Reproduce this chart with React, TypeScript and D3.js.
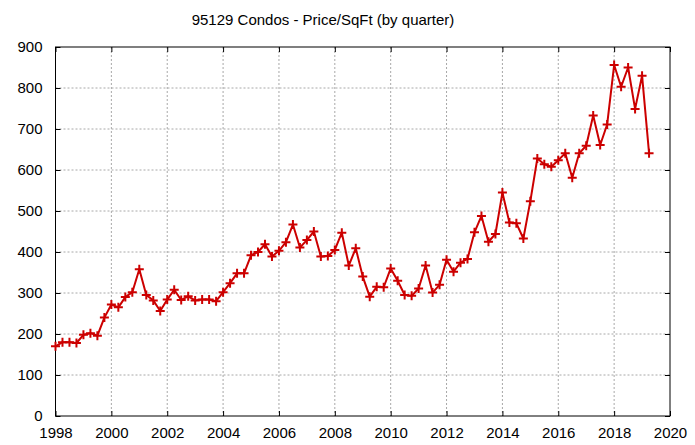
import React, { useEffect, useRef } from 'react';
import * as d3 from 'd3';

const svgWidth = 695;
const svgHeight = 445;

const title = '95129 Condos - Price/SqFt (by quarter)';
const startYear = 1998;
// quarterly price per sq ft, 1998 Q1 .. 2019 Q2
const prices = [
  170, 180, 180, 178,
  198, 202, 196, 240,
  272, 265, 290, 302,
  358, 295, 282, 256,
  284, 308, 283, 292,
  282, 284, 284, 280,
  302, 324, 348, 348,
  392, 400, 419, 389,
  403, 424, 467, 411,
  429, 450, 389, 390,
  405, 447, 367, 409,
  340, 291, 315, 314,
  360, 330, 295, 293,
  311, 367, 301, 320,
  381, 352, 374, 383,
  448, 488, 425, 444,
  545, 472, 470, 433,
  524, 628, 614, 608,
  624, 641, 581, 641,
  659, 733, 661, 711,
  856, 803, 850, 749,
  830, 641,
];
const xTicks = [1998, 2000, 2002, 2004, 2006, 2008, 2010, 2012, 2014, 2016, 2018, 2020];
const yTicks = [0, 100, 200, 300, 400, 500, 600, 700, 800, 900];

const App: React.FC = () => {
  const svgRef = useRef<SVGSVGElement | null>(null);

  useEffect(() => {
    const margin = { top: 47, right: 25, bottom: 29, left: 55.5 };
    const width = svgWidth - margin.left - margin.right;
    const height = svgHeight - margin.top - margin.bottom;

    const svg = d3.select(svgRef.current);
    svg.selectAll('*').remove();

    const data = prices.map((v, i) => ({ x: startYear + i / 4, y: v }));

    const xScale = d3.scaleLinear().domain([1998, 2020]).range([0, width]);
    const yScale = d3.scaleLinear().domain([0, 900]).range([height, 0]);

    const g = svg
      .append('g')
      .attr('transform', `translate(${margin.left},${margin.top})`);

    // grid
    g.append('g')
      .selectAll('line')
      .data(xTicks.slice(1, -1))
      .join('line')
      .attr('x1', (d) => xScale(d))
      .attr('x2', (d) => xScale(d))
      .attr('y1', 0)
      .attr('y2', height)
      .attr('stroke', '#a8a8a8')
      .attr('stroke-dasharray', '2,2');
    g.append('g')
      .selectAll('line')
      .data(yTicks.slice(1, -1))
      .join('line')
      .attr('x1', 0)
      .attr('x2', width)
      .attr('y1', (d) => yScale(d))
      .attr('y2', (d) => yScale(d))
      .attr('stroke', '#a8a8a8')
      .attr('stroke-dasharray', '2,2');

    // axes (ticks inward, mirrored)
    const axisStyle = (sel: any) => {
      sel.select('.domain').remove();
      sel.selectAll('line').attr('stroke', '#000');
      sel.selectAll('text').attr('font-family', "'Liberation Sans', Arial, sans-serif").attr('font-size', 15).attr('fill', '#000');
    };
    g.append('g')
      .attr('transform', `translate(0,${height})`)
      .call(d3.axisBottom(xScale).tickValues(xTicks).tickFormat(d3.format('d')).tickSizeInner(-5).tickPadding(11))
      .call(axisStyle);
    g.append('g')
      .call(d3.axisTop(xScale).tickValues(xTicks).tickFormat(() => '').tickSizeInner(-5))
      .call(axisStyle);
    g.append('g')
      .call(d3.axisLeft(yScale).tickValues(yTicks).tickSizeInner(-5).tickPadding(13))
      .call(axisStyle);
    g.append('g')
      .attr('transform', `translate(${width},0)`)
      .call(d3.axisRight(yScale).tickValues(yTicks).tickFormat(() => '').tickSizeInner(-5))
      .call(axisStyle);

    g.append('rect')
      .attr('width', width)
      .attr('height', height)
      .attr('fill', 'none')
      .attr('stroke', '#000');

    // line
    const line = d3
      .line<{ x: number; y: number }>()
      .x((d) => xScale(d.x))
      .y((d) => yScale(d.y));

    g.append('path')
      .datum(data)
      .attr('d', line)
      .attr('fill', 'none')
      .attr('stroke', '#cc0000')
      .attr('stroke-width', 2)
      .attr('stroke-linejoin', 'round');

    // + markers
    const s = 4.5;
    g.append('g')
      .selectAll('path')
      .data(data)
      .join('path')
      .attr('d', (d) => {
        const px = xScale(d.x);
        const py = yScale(d.y);
        return `M${px - s},${py}H${px + s}M${px},${py - s}V${py + s}`;
      })
      .attr('stroke', '#cc0000')
      .attr('stroke-width', 2);

    // title
    svg
      .append('text')
      .attr('x', 323)
      .attr('y', 25)
      .attr('text-anchor', 'middle')
      .attr('font-family', "'Liberation Sans', Arial, sans-serif")
      .attr('font-size', 15)
      .text(title);
  }, []);

  return (
    <svg
      width={svgWidth}
      height={svgHeight}
      ref={svgRef}
      style={{ position: 'absolute', left: 0, top: 0, background: '#fff' }}
    ></svg>
  );
};

export default App;
